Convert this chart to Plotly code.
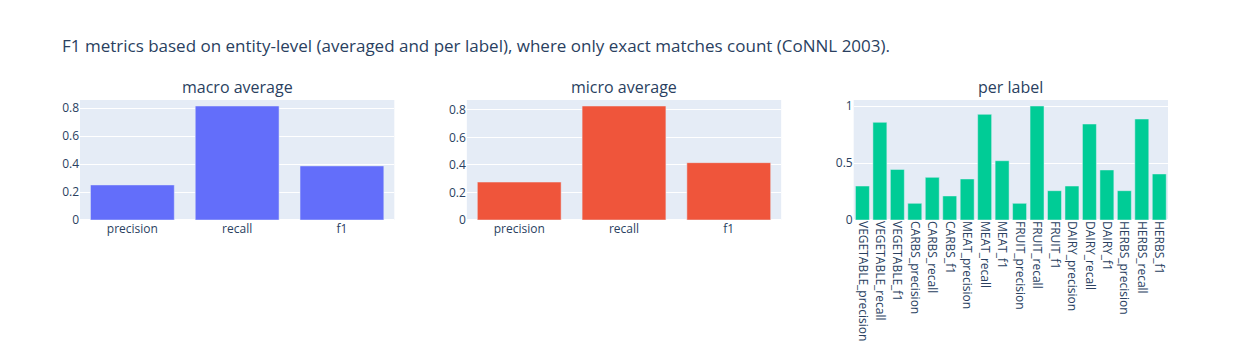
import plotly.graph_objects as go
from plotly.subplots import make_subplots

metrics = ["precision", "recall", "f1"]
macro_values = [0.251, 0.816, 0.387]
micro_values = [0.276, 0.829, 0.417]

label_names = [
    "VEGETABLE_precision", "VEGETABLE_recall", "VEGETABLE_f1",
    "CARBS_precision", "CARBS_recall", "CARBS_f1",
    "MEAT_precision", "MEAT_recall", "MEAT_f1",
    "FRUIT_precision", "FRUIT_recall", "FRUIT_f1",
    "DAIRY_precision", "DAIRY_recall", "DAIRY_f1",
    "HERBS_precision", "HERBS_recall", "HERBS_f1",
]
label_values = [
    0.298, 0.857, 0.444,
    0.146, 0.374, 0.211,
    0.360, 0.927, 0.520,
    0.146, 1.000, 0.257,
    0.298, 0.842, 0.439,
    0.257, 0.886, 0.404,
]

fig = make_subplots(rows=1, cols=3,
                    subplot_titles=("macro average", "micro average", "per label"))
fig.add_trace(go.Bar(x=metrics, y=macro_values), row=1, col=1)
fig.add_trace(go.Bar(x=metrics, y=micro_values), row=1, col=2)
fig.add_trace(go.Bar(x=label_names, y=label_values), row=1, col=3)

fig.update_xaxes(tickangle=90, row=1, col=3)

W, H = 1232, 352
fig.update_layout(
    title=dict(
        text="F1 metrics based on entity-level (averaged and per label), where only exact matches count (CoNNL 2003).",
        x=54 / W, xanchor="left",
        yref="container", y=1 - 38 / H, yanchor="middle",
    ),
    showlegend=False,
    width=W,
    height=H,
    margin=dict(l=72, r=72, t=92, b=140, autoexpand=False),
)
fig.write_html("out.html")
